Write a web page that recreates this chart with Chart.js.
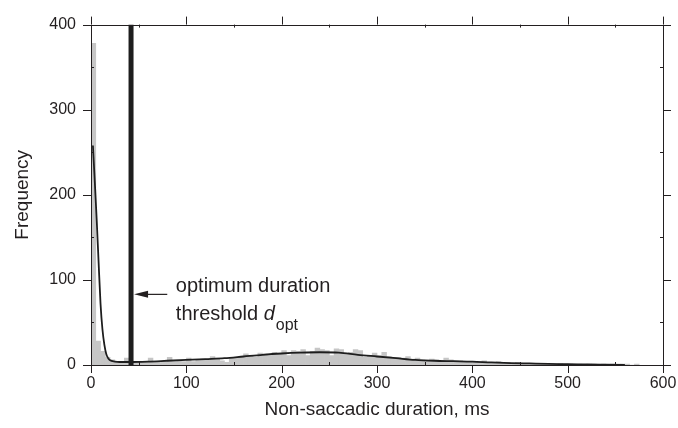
<!DOCTYPE html>
<html lang="en">
<head>
<meta charset="utf-8">
<style>
  html, body { margin: 0; padding: 0; background: #fff; }
  #wrap { width: 678px; height: 428px; }
</style>
</head>
<body>
<div id="wrap"><canvas id="myChart" width="678" height="428"></canvas></div>
<script src="https://cdn.jsdelivr.net/npm/chart.js"></script>
<script>
// histogram: 5 ms bins, values are counts per bin
const binCenters = [];
for (let i = 0; i < 115; i++) binCenters.push(2.5 + 5 * i);
const binCounts = [
  378, 28, 16, 9, 6, 4, 3, 8, 3, 2,
  3, 4, 8, 3, 4, 3, 9, 4, 5, 4,
  8, 4, 6, 7, 6, 10, 7, 5, 3, 8,
  9, 10, 13, 11, 9, 14, 13, 11, 15, 13,
  17, 11, 17, 16, 18, 11, 16, 20, 18, 17,
  11, 19, 18, 13, 15, 18, 17, 9, 11, 14,
  11, 15, 10, 9, 9, 8, 10, 7, 8, 6,
  6, 7, 6, 5, 8, 6, 5, 5, 4, 4,
  4, 3, 5, 2, 3, 4, 2, 3, 2, 3,
  2, 1, 2, 2, 1, 2, 1, 1, 2, 1,
  1, 1, 1, 0, 1, 1, 0, 1, 0, 1,
  0, 1, 1, 0, 1
];

// fitted mixture curve
const fitX = [2, 4, 6, 8, 10, 12, 14, 16, 18, 20, 25, 30, 40, 60, 80, 100, 120, 140, 160, 180,
  200, 220, 240, 260, 280, 300, 320, 340, 360, 380, 400, 420, 440, 460, 480, 500, 520, 540, 560];
const fitY = [258, 215, 170, 120, 72, 42, 24, 13, 8, 5.5, 4, 3.5, 3.5, 4, 5, 6, 7, 8, 10, 12,
  13.5, 14.5, 15, 14.5, 12, 10, 8, 6, 5, 4.5, 4, 3, 2.3, 1.8, 1.3, 1, 0.6, 0.3, 0];

const dOpt = 42;
const xTicks = [0, 100, 200, 300, 400, 500, 600];
const yTicks = [0, 100, 200, 300, 400];

const ink = '#231f20';
const font = 'Liberation Sans, Arial, Helvetica, sans-serif';

const framePlugin = {
  id: 'frame',
  afterDatasetsDraw(chart) {
    const ctx = chart.ctx;
    const a = chart.chartArea;
    const xs = chart.scales.x, ys = chart.scales.y;
    ctx.save();
    ctx.strokeStyle = ink;
    ctx.lineWidth = 1;
    ctx.strokeRect(Math.round(a.left) + 0.5, Math.round(a.top) + 0.5,
      Math.round(a.right - a.left), Math.round(a.bottom - a.top));
    ctx.beginPath();
    for (let v = 0; v <= 600; v += 50) {
      const px = Math.round(xs.getPixelForValue(v)) + 0.5;
      if (v % 100 === 0) {
        ctx.moveTo(px, a.bottom); ctx.lineTo(px, a.bottom + 8);
        ctx.moveTo(px, a.top); ctx.lineTo(px, a.top - 8);
      } else {
        ctx.moveTo(px, a.bottom); ctx.lineTo(px, a.bottom - 3);
        ctx.moveTo(px, a.top); ctx.lineTo(px, a.top + 3);
      }
    }
    for (let v = 0; v <= 400; v += 50) {
      const py = Math.round(ys.getPixelForValue(v)) + 0.5;
      if (v % 100 === 0) {
        ctx.moveTo(a.left, py); ctx.lineTo(a.left - 8, py);
        ctx.moveTo(a.right, py); ctx.lineTo(a.right + 8, py);
      } else {
        ctx.moveTo(a.left, py); ctx.lineTo(a.left + 3, py);
        ctx.moveTo(a.right, py); ctx.lineTo(a.right - 3, py);
      }
    }
    ctx.stroke();

    // annotation: arrow pointing at threshold line
    const ay = ys.getPixelForValue(83);
    const ax0 = xs.getPixelForValue(dOpt) + 3;
    const ax1 = xs.getPixelForValue(80);
    ctx.beginPath();
    ctx.moveTo(ax1, ay); ctx.lineTo(ax0 + 10, ay);
    ctx.lineWidth = 1.2;
    ctx.stroke();
    ctx.beginPath();
    ctx.fillStyle = ink;
    ctx.moveTo(ax0, ay);
    ctx.lineTo(ax0 + 14, ay - 3.5);
    ctx.lineTo(ax0 + 14, ay + 3.5);
    ctx.closePath();
    ctx.fill();

    const tx = xs.getPixelForValue(89);
    ctx.textBaseline = 'alphabetic';
    ctx.textAlign = 'left';
    ctx.font = '20px ' + font;
    ctx.fillText('optimum duration', tx, ys.getPixelForValue(85.5));
    const y2 = ys.getPixelForValue(53);
    ctx.fillText('threshold ', tx, y2);
    let w = ctx.measureText('threshold ').width;
    ctx.font = 'italic 20px ' + font;
    ctx.fillText('d', tx + w, y2);
    w += ctx.measureText('d').width + 1;
    ctx.font = '16px ' + font;
    ctx.fillText('opt', tx + w, y2 + 10);
    ctx.restore();
  }
};

const data = {
  datasets: [
    {
      type: 'line',
      label: 'threshold',
      data: [{x: dOpt, y: 0}, {x: dOpt, y: 400}],
      borderColor: '#1e1e1e',
      borderWidth: 5,
      pointRadius: 0,
      order: 1
    },
    {
      type: 'line',
      label: 'fit',
      data: fitX.map((x, i) => ({x: x, y: fitY[i]})),
      borderColor: '#1e1e1e',
      borderWidth: 1.8,
      pointRadius: 0,
      cubicInterpolationMode: 'monotone',
      order: 2
    },
    {
      type: 'bar',
      label: 'counts',
      data: binCenters.map((x, i) => ({x: x, y: binCounts[i]})),
      backgroundColor: '#c6c6c6',
      borderWidth: 0,
      barPercentage: 1,
      categoryPercentage: 1,
      order: 3
    }
  ]
};

const config = {
  type: 'bar',
  data: data,
  plugins: [framePlugin],
  options: {
    responsive: false,
    animation: false,
    events: [],
    layout: { padding: { top: 23, right: 15, left: 0, bottom: 0 } },
    plugins: { legend: { display: false }, tooltip: { enabled: false } },
    scales: {
      x: {
        type: 'linear',
        min: 0, max: 600,
        offset: false,
        grid: { display: false, drawTicks: false },
        border: { display: false },
        afterBuildTicks: (s) => { s.ticks = xTicks.map(v => ({value: v})); },
        afterFit: (s) => { s.height = 63; s.paddingLeft = 0; s.paddingRight = 0; },
        ticks: { color: ink, font: { family: font, size: 16 }, padding: 9, maxRotation: 0 },
        title: { display: true, text: 'Non-saccadic duration, ms', color: ink,
          font: { family: font, size: 19 }, padding: { top: 0, bottom: 7 } }
      },
      y: {
        min: 0, max: 400,
        grid: { display: false, drawTicks: false },
        border: { display: false },
        afterBuildTicks: (s) => { s.ticks = yTicks.map(v => ({value: v})); },
        afterFit: (s) => { s.width = 91; },
        ticks: { color: ink, font: { family: font, size: 16 }, padding: 15 },
        title: { display: true, text: 'Frequency', color: ink,
          font: { family: font, size: 19 }, padding: { top: 11, bottom: 0 } }
      }
    }
  }
};

const myChart = new Chart(document.getElementById('myChart'), config);
</script>
</body>
</html>
